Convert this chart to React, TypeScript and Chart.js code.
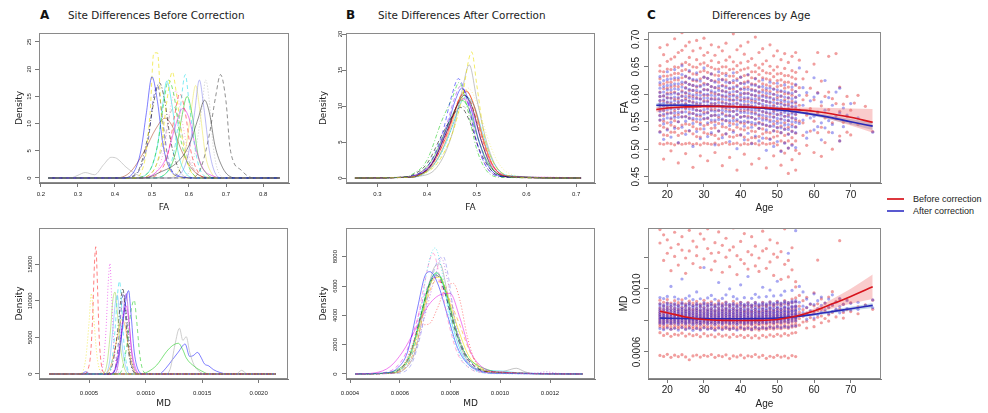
import React, { useEffect, useRef } from "react";
import { Chart, registerables } from "chart.js";
Chart.register(...registerables);

/* ------------------------------------------------------------------ */
/* DATA                                                                 */
/* ------------------------------------------------------------------ */

// Panel A (top): FA density per site, before correction  [FA, density]
const faBeforeCurves: number[][][] = [
  [[0.22,0],[0.42,0],[0.45,1],[0.47,5],[0.485,12],[0.50,18.6],[0.515,14],[0.53,6],[0.55,1.5],[0.58,0.2],[0.62,0],[0.845,0]],
  [[0.22,0],[0.45,0],[0.48,3],[0.495,12],[0.505,23],[0.515,23],[0.525,12],[0.54,3],[0.57,0.3],[0.60,0],[0.845,0]],
  [[0.22,0],[0.60,0],[0.63,1.5],[0.655,8],[0.672,15],[0.685,19],[0.70,14],[0.71,6],[0.72,3],[0.74,1.5],[0.76,0.3],[0.78,0],[0.845,0]],
  [[0.22,0],[0.48,0],[0.52,1],[0.57,3],[0.60,6],[0.625,11],[0.642,14.3],[0.655,12],[0.67,6],[0.69,2],[0.71,0.3],[0.73,0],[0.845,0]],
  [[0.22,0],[0.55,0],[0.58,1],[0.60,5],[0.615,12],[0.628,18],[0.64,13],[0.655,5],[0.67,1],[0.69,0],[0.845,0]],
  [[0.22,0],[0.57,0],[0.60,1],[0.62,6],[0.635,13],[0.645,18],[0.655,14],[0.665,6],[0.68,1],[0.70,0],[0.845,0]],
  [[0.22,0],[0.50,0],[0.54,1],[0.56,5],[0.575,12],[0.59,19],[0.60,14],[0.615,6],[0.63,1.5],[0.66,0],[0.845,0]],
  [[0.22,0],[0.46,0],[0.50,1],[0.525,6],[0.54,14],[0.555,19.5],[0.565,16],[0.58,8],[0.60,2],[0.63,0],[0.845,0]],
  [[0.22,0],[0.45,0],[0.49,1],[0.515,6],[0.53,13],[0.545,18],[0.56,15],[0.575,8],[0.60,2],[0.63,0],[0.845,0]],
  [[0.22,0],[0.42,0],[0.46,1],[0.49,8],[0.505,14],[0.52,17.5],[0.535,14],[0.55,7],[0.57,2],[0.60,0],[0.845,0]],
  [[0.22,0],[0.43,0],[0.47,2],[0.49,7],[0.505,15],[0.515,17],[0.53,10],[0.545,3],[0.57,0.5],[0.60,0],[0.845,0]],
  [[0.22,0],[0.40,0],[0.44,1],[0.48,5],[0.51,9],[0.535,11],[0.555,9.5],[0.58,5],[0.61,1.5],[0.64,0.2],[0.70,0],[0.845,0]],
  [[0.22,0],[0.47,0],[0.51,1],[0.54,4],[0.565,10],[0.583,12.8],[0.60,11],[0.62,5],[0.64,1.5],[0.66,0.5],[0.69,0],[0.845,0]],
  [[0.22,0],[0.48,0],[0.52,1],[0.545,5],[0.56,11],[0.575,15.5],[0.59,12],[0.605,5],[0.625,1],[0.65,0],[0.845,0]],
  [[0.22,0],[0.47,0],[0.51,1],[0.535,6],[0.55,13],[0.565,16],[0.58,11],[0.60,4],[0.62,1],[0.65,0],[0.845,0]],
  [[0.22,0],[0.28,0],[0.30,0.5],[0.32,1],[0.345,0.6],[0.37,2.5],[0.39,3.8],[0.405,3.6],[0.43,2],[0.45,1],[0.47,0.3],[0.50,0],[0.845,0]],
  [[0.22,0],[0.50,0],[0.54,1],[0.565,5],[0.58,11],[0.595,15],[0.61,11],[0.625,4],[0.645,1],[0.67,0],[0.845,0]],
  [[0.22,0],[0.45,0],[0.49,1],[0.515,6],[0.53,14],[0.54,17.8],[0.555,13],[0.57,5],[0.59,1],[0.62,0],[0.845,0]],
  [[0.22,0],[0.54,0],[0.57,1],[0.59,5],[0.605,12],[0.618,17],[0.63,12],[0.645,4],[0.66,1],[0.68,0],[0.845,0]],
  [[0.22,0],[0.46,0],[0.50,1],[0.53,6],[0.55,12],[0.56,13],[0.575,10],[0.595,4],[0.62,1],[0.65,0],[0.845,0]],
];
const faBeforeXTicks = [0.2, 0.3, 0.4, 0.5, 0.6, 0.7, 0.8];
const faBeforeXLabels = ["0.2", "0.3", "0.4", "0.5", "0.6", "0.7", "0.8"];
const faBeforeYTicks = [0, 5, 10, 15, 20, 25];
const faBeforeYLabels = ["0", "5", "10", "15", "20", "25"];

// Panel B (top): FA density per site, after correction
const faAfterCurves: number[][][] = [
  [[0.255,0],[0.36,0.1],[0.38,0.3],[0.42,2],[0.45,6],[0.47,11],[0.49,17.5],[0.50,13],[0.515,6],[0.535,2],[0.56,0.4],[0.60,0.05],[0.71,0]],
  [[0.255,0],[0.36,0.1],[0.38,0.2],[0.42,1.5],[0.45,6],[0.47,12],[0.485,15.7],[0.50,11],[0.52,5],[0.54,1.5],[0.57,0.2],[0.71,0]],
  [[0.255,0],[0.35,0.1],[0.37,0.3],[0.40,1.5],[0.43,6],[0.45,11.5],[0.463,13.8],[0.48,11],[0.50,5],[0.52,1.5],[0.55,0.2],[0.71,0]],
  [[0.255,0],[0.35,0.1],[0.37,0.5],[0.40,2.5],[0.43,8],[0.45,11],[0.465,13.3],[0.48,10],[0.50,4],[0.52,1],[0.55,0.1],[0.71,0]],
  [[0.255,0],[0.35,0.1],[0.37,0.4],[0.40,2],[0.43,6],[0.455,9],[0.468,9.8],[0.485,8],[0.505,4],[0.53,1],[0.56,0.1],[0.71,0]],
  [[0.255,0],[0.36,0.1],[0.38,0.3],[0.41,2],[0.44,6.5],[0.46,10],[0.475,11.5],[0.49,10],[0.51,5],[0.53,1.5],[0.56,0.2],[0.71,0]],
  [[0.255,0],[0.36,0.1],[0.38,0.3],[0.41,1.8],[0.44,6],[0.465,11],[0.48,12],[0.495,10],[0.515,5],[0.535,1.5],[0.565,0.2],[0.71,0]],
  [[0.255,0],[0.35,0.1],[0.38,0.5],[0.41,2.2],[0.44,6.5],[0.46,10],[0.472,11],[0.49,9.5],[0.51,5],[0.53,1.8],[0.56,0.3],[0.64,0.1],[0.71,0]],
  [[0.255,0],[0.36,0.1],[0.39,0.5],[0.42,2.5],[0.45,7],[0.465,10],[0.478,11.3],[0.495,10],[0.515,5.5],[0.535,2],[0.565,0.3],[0.71,0]],
  [[0.255,0],[0.36,0.1],[0.38,0.4],[0.41,2],[0.44,7],[0.458,11],[0.47,12.5],[0.485,10.5],[0.505,5],[0.525,1.5],[0.555,0.2],[0.71,0]],
  [[0.255,0],[0.35,0.1],[0.38,0.4],[0.41,2],[0.44,7.5],[0.455,11],[0.468,12.8],[0.482,10.5],[0.50,5],[0.52,1.5],[0.55,0.2],[0.71,0]],
  [[0.255,0],[0.36,0.1],[0.39,0.5],[0.42,2.5],[0.45,7.5],[0.465,11],[0.478,12.2],[0.492,10.5],[0.51,6],[0.53,2],[0.56,0.3],[0.71,0]],
  [[0.255,0],[0.35,0.1],[0.38,0.5],[0.41,2.5],[0.44,7],[0.46,10],[0.47,10.8],[0.485,9.5],[0.505,5],[0.525,1.8],[0.555,0.3],[0.71,0]],
  [[0.255,0],[0.36,0.2],[0.39,0.6],[0.42,2],[0.45,6],[0.47,10.5],[0.482,12.5],[0.50,10.5],[0.52,6],[0.54,2.5],[0.57,0.5],[0.62,0.1],[0.71,0]],
  [[0.255,0],[0.36,0.1],[0.39,0.5],[0.42,2.5],[0.45,7],[0.465,10],[0.475,11],[0.49,9.8],[0.51,5.5],[0.53,2],[0.56,0.3],[0.66,0.1],[0.71,0]],
  [[0.255,0],[0.35,0.1],[0.38,0.5],[0.41,2.5],[0.44,7],[0.46,9.5],[0.47,10],[0.485,9],[0.505,5],[0.525,1.8],[0.555,0.3],[0.71,0]],
  [[0.255,0],[0.37,0.1],[0.40,0.8],[0.43,3.5],[0.455,8],[0.475,12],[0.49,11],[0.51,6],[0.53,2.2],[0.56,0.4],[0.71,0]],
  [[0.255,0],[0.36,0.1],[0.39,0.6],[0.42,3],[0.45,8],[0.47,11.5],[0.485,11],[0.50,8],[0.52,3.5],[0.54,1],[0.57,0.1],[0.71,0]],
];
const faAfterXTicks = [0.3, 0.4, 0.5, 0.6, 0.7];
const faAfterXLabels = ["0.3", "0.4", "0.5", "0.6", "0.7"];
const faAfterYTicks = [0, 5, 10, 15, 20];
const faAfterYLabels = ["0", "5", "10", "15", "20"];

// Panel A (bottom): MD density per site, before correction  [MD, density]
const mdBeforeCurves: number[][][] = [
  [[1.5e-4,0],[4.5e-4,0],[5.05e-4,1500],[5.3e-4,7000],[5.48e-4,15000],[5.6e-4,17400],[5.75e-4,12000],[5.9e-4,5000],[6.1e-4,1200],[6.4e-4,100],[6.7e-4,0],[21.5e-4,0]],
  [[1.5e-4,0],[4.2e-4,0],[4.7e-4,2000],[5.0e-4,7000],[5.2e-4,11000],[5.4e-4,8000],[5.7e-4,2500],[6.0e-4,400],[6.5e-4,0],[21.5e-4,0]],
  [[1.5e-4,0],[5.8e-4,0],[6.2e-4,1000],[6.5e-4,6000],[6.7e-4,12500],[6.85e-4,15100],[7.0e-4,10500],[7.2e-4,4000],[7.5e-4,800],[7.8e-4,0],[21.5e-4,0]],
  [[1.5e-4,0],[6.6e-4,0],[7.0e-4,1500],[7.3e-4,6000],[7.5e-4,10500],[7.7e-4,12700],[7.9e-4,9000],[8.1e-4,4000],[8.4e-4,800],[8.7e-4,0],[21.5e-4,0]],
  [[1.5e-4,0],[6.2e-4,0],[6.6e-4,1500],[6.9e-4,6000],[7.1e-4,10000],[7.3e-4,11200],[7.5e-4,8500],[7.8e-4,3500],[8.2e-4,500],[8.6e-4,0],[21.5e-4,0]],
  [[1.5e-4,0],[7.0e-4,0],[7.5e-4,1500],[7.9e-4,5500],[8.2e-4,9500],[8.5e-4,11400],[8.7e-4,8500],[9.0e-4,3000],[9.4e-4,400],[9.8e-4,0],[21.5e-4,0]],
  [[1.5e-4,0],[6.8e-4,0],[7.4e-4,1200],[7.8e-4,5000],[8.1e-4,8500],[8.3e-4,9300],[8.5e-4,7500],[8.8e-4,3000],[9.2e-4,500],[9.6e-4,0],[21.5e-4,0]],
  [[1.5e-4,0],[7.6e-4,0],[8.0e-4,1000],[8.4e-4,4500],[8.7e-4,8500],[9.0e-4,10100],[9.2e-4,7500],[9.5e-4,2500],[9.8e-4,400],[10.2e-4,0],[21.5e-4,0]],
  [[1.5e-4,0],[6.6e-4,0],[7.1e-4,1500],[7.5e-4,5500],[7.8e-4,10000],[8.0e-4,11700],[8.2e-4,8500],[8.5e-4,3000],[8.9e-4,400],[9.3e-4,0],[21.5e-4,0]],
  [[1.5e-4,0],[6.9e-4,0],[7.4e-4,1200],[7.8e-4,5000],[8.05e-4,8200],[8.2e-4,9000],[8.4e-4,7000],[8.7e-4,2500],[9.1e-4,300],[9.5e-4,0],[21.5e-4,0]],
  [[1.5e-4,0],[6.4e-4,0],[7.0e-4,1500],[7.5e-4,5000],[7.9e-4,7500],[8.2e-4,6500],[8.5e-4,3500],[8.9e-4,800],[9.3e-4,0],[21.5e-4,0]],
  [[1.5e-4,0],[6.4e-4,0],[6.8e-4,1500],[7.1e-4,6000],[7.35e-4,10000],[7.5e-4,10800],[7.7e-4,8000],[8.0e-4,3000],[8.4e-4,400],[8.8e-4,0],[21.5e-4,0]],
  [[1.5e-4,0],[7.0e-4,0],[7.4e-4,1500],[7.7e-4,6000],[7.95e-4,10500],[8.1e-4,11000],[8.3e-4,8000],[8.6e-4,2500],[9.0e-4,300],[9.4e-4,0],[21.5e-4,0]],
  [[1.5e-4,0],[9.5e-4,0],[10.2e-4,300],[11.0e-4,1230],[11.85e-4,3050],[12.4e-4,3900],[12.9e-4,4200],[13.3e-4,3300],[13.6e-4,2200],[14.35e-4,1000],[15.1e-4,300],[15.6e-4,0],[21.5e-4,0]],
  [[1.5e-4,0],[11.8e-4,0],[12.2e-4,800],[12.6e-4,4000],[13.0e-4,6250],[13.3e-4,4600],[13.6e-4,5100],[13.9e-4,3000],[14.3e-4,1200],[14.8e-4,300],[15.2e-4,0],[18.0e-4,0],[18.5e-4,500],[19.0e-4,0],[21.5e-4,0]],
  [[1.5e-4,0],[4.3e-4,0],[4.7e-4,300],[5.1e-4,0],[11.2e-4,0],[11.8e-4,800],[12.4e-4,2000],[12.9e-4,3000],[13.5e-4,4100],[13.9e-4,2400],[14.2e-4,2500],[14.6e-4,2950],[14.9e-4,2300],[15.2e-4,1400],[15.6e-4,1100],[16.0e-4,600],[16.6e-4,200],[17.2e-4,0],[21.5e-4,0]],
  [[1.5e-4,0],[7.2e-4,0],[7.6e-4,1500],[7.9e-4,6000],[8.1e-4,9500],[8.3e-4,11000],[8.5e-4,8000],[8.8e-4,2500],[9.2e-4,300],[9.6e-4,0],[21.5e-4,0]],
];
const mdBeforeXTicks = [0.0005, 0.001, 0.0015, 0.002];
const mdBeforeXLabels = ["0.0005", "0.0010", "0.0015", "0.0020"];
const mdBeforeYTicks = [0, 5000, 10000, 15000];
const mdBeforeYLabels = ["0", "5000", "10000", "15000"];

// Panel B (bottom): MD density per site, after correction
const mdAfterCurves: number[][][] = [
  [[4.2e-4,0],[5.4e-4,50],[6.0e-4,300],[6.4e-4,1200],[6.8e-4,4000],[7.1e-4,7200],[7.4e-4,8600],[7.7e-4,6800],[8.0e-4,3500],[8.4e-4,1200],[8.8e-4,400],[9.3e-4,100],[9.8e-4,20],[13.3e-4,0]],
  [[4.2e-4,0],[5.5e-4,40],[6.1e-4,400],[6.5e-4,1800],[6.9e-4,5500],[7.33e-4,8230],[7.6e-4,6500],[7.9e-4,3800],[8.3e-4,1400],[8.7e-4,500],[9.2e-4,120],[13.3e-4,0]],
  [[4.2e-4,0],[5.8e-4,40],[6.4e-4,500],[6.8e-4,2500],[7.2e-4,6000],[7.5e-4,7700],[7.73e-4,8000],[7.95e-4,6500],[8.2e-4,3500],[8.6e-4,1100],[9.0e-4,300],[9.5e-4,60],[13.3e-4,0]],
  [[4.2e-4,0],[5.3e-4,60],[5.9e-4,400],[6.3e-4,1500],[6.7e-4,4500],[7.0e-4,6700],[7.2e-4,6977],[7.5e-4,6200],[7.9e-4,4000],[8.3e-4,1800],[8.7e-4,700],[9.2e-4,200],[9.8e-4,50],[13.3e-4,0]],
  [[4.2e-4,0],[5.6e-4,50],[6.1e-4,500],[6.5e-4,2000],[6.8e-4,3300],[7.15e-4,3400],[7.5e-4,4500],[7.8e-4,5800],[8.13e-4,6180],[8.4e-4,5000],[8.7e-4,2500],[9.0e-4,900],[9.5e-4,200],[13.3e-4,0]],
  [[4.2e-4,0],[5.0e-4,80],[5.6e-4,500],[6.1e-4,1500],[6.6e-4,3000],[7.1e-4,4600],[7.6e-4,5400],[8.0e-4,5500],[8.4e-4,3800],[8.8e-4,1600],[9.2e-4,600],[9.8e-4,150],[13.3e-4,0]],
  [[4.2e-4,0],[5.3e-4,50],[5.9e-4,300],[6.3e-4,1000],[6.7e-4,3000],[7.1e-4,5800],[7.45e-4,6900],[7.8e-4,5800],[8.2e-4,3200],[8.6e-4,1400],[9.0e-4,700],[9.5e-4,300],[10.0e-4,100],[13.3e-4,0]],
  [[4.2e-4,0],[5.4e-4,40],[6.0e-4,350],[6.4e-4,1300],[6.8e-4,3800],[7.2e-4,6200],[7.5e-4,6700],[7.8e-4,5500],[8.2e-4,3000],[8.6e-4,1300],[9.0e-4,500],[9.5e-4,150],[13.3e-4,0]],
  [[4.2e-4,0],[5.5e-4,50],[6.1e-4,400],[6.5e-4,1600],[6.9e-4,4200],[7.3e-4,6400],[7.6e-4,6600],[7.9e-4,5300],[8.3e-4,3200],[8.7e-4,1400],[9.1e-4,500],[9.6e-4,150],[13.3e-4,0]],
  [[4.2e-4,0],[5.6e-4,50],[6.2e-4,400],[6.6e-4,1700],[7.0e-4,4500],[7.4e-4,6300],[7.7e-4,6200],[8.0e-4,5000],[8.4e-4,3300],[8.8e-4,1500],[9.2e-4,500],[9.7e-4,100],[13.3e-4,0]],
  [[4.2e-4,0],[5.6e-4,40],[6.2e-4,350],[6.6e-4,1500],[7.0e-4,4800],[7.35e-4,7200],[7.6e-4,7500],[7.9e-4,5500],[8.3e-4,2500],[8.7e-4,900],[9.2e-4,250],[9.9e-4,100],[10.3e-4,250],[10.65e-4,390],[11.0e-4,150],[11.4e-4,20],[13.3e-4,0]],
  [[4.2e-4,0],[5.5e-4,40],[6.2e-4,400],[6.6e-4,1500],[7.0e-4,4000],[7.4e-4,6600],[7.66e-4,7900],[7.9e-4,6400],[8.3e-4,3000],[8.7e-4,1000],[9.2e-4,250],[10.0e-4,50],[11.4e-4,60],[11.85e-4,150],[12.3e-4,50],[13.3e-4,0]],
  [[4.2e-4,0],[5.4e-4,40],[6.0e-4,300],[6.4e-4,1200],[6.8e-4,3800],[7.2e-4,6300],[7.5e-4,6900],[7.8e-4,5600],[8.1e-4,3300],[8.5e-4,1300],[8.9e-4,500],[9.5e-4,250],[10.1e-4,200],[10.6e-4,100],[13.3e-4,0]],
  [[4.2e-4,0],[5.5e-4,50],[6.1e-4,350],[6.5e-4,1400],[6.9e-4,4200],[7.3e-4,6500],[7.55e-4,6800],[7.85e-4,5500],[8.25e-4,3000],[8.65e-4,1300],[9.05e-4,500],[9.6e-4,150],[13.3e-4,0]],
  [[4.2e-4,0],[5.2e-4,60],[5.8e-4,400],[6.2e-4,1300],[6.6e-4,3200],[7.0e-4,5500],[7.35e-4,6600],[7.7e-4,6000],[8.1e-4,3800],[8.5e-4,1800],[8.9e-4,700],[9.4e-4,200],[13.3e-4,0]],
];
const mdAfterXTicks = [0.0004, 0.0006, 0.0008, 0.001, 0.0012];
const mdAfterXLabels = ["0.0004", "0.0006", "0.0008", "0.0010", "0.0012"];
const mdAfterYTicks = [0, 2000, 4000, 6000, 8000];
const mdAfterYLabels = ["0", "2000", "4000", "6000", "8000"];

// Panel C (top): FA by age  [age, FA values]
const faAgeBefore: [number, number[]][] = [
  [18,[0.685,0.652,0.628,0.604,0.588,0.571,0.553,0.532,0.510]],
  [19,[0.672,0.641,0.619,0.597,0.579,0.561,0.540,0.509,0.482]],
  [20,[0.690,0.660,0.633,0.611,0.594,0.576,0.548,0.525,0.511]],
  [21,[0.664,0.645,0.622,0.603,0.583,0.566,0.544,0.510,0.497]],
  [22,[0.701,0.668,0.638,0.615,0.591,0.570,0.552,0.531,0.508]],
  [23,[0.676,0.649,0.626,0.600,0.585,0.563,0.538,0.511,0.475]],
  [24,[0.712,0.680,0.655,0.630,0.606,0.588,0.559,0.529,0.509]],
  [25,[0.688,0.658,0.632,0.612,0.592,0.574,0.546,0.510,0.492]],
  [26,[0.695,0.667,0.641,0.618,0.597,0.578,0.557,0.533,0.511]],
  [27,[0.679,0.650,0.625,0.607,0.586,0.565,0.541,0.509,0.467]],
  [28,[0.698,0.663,0.636,0.613,0.594,0.571,0.550,0.523,0.510]],
  [29,[0.684,0.655,0.628,0.603,0.581,0.560,0.537,0.508,0.488]],
  [30,[0.702,0.671,0.643,0.620,0.598,0.579,0.555,0.530,0.511]],
  [31,[0.676,0.652,0.629,0.608,0.588,0.567,0.545,0.510,0.479]],
  [32,[0.690,0.661,0.637,0.614,0.592,0.572,0.549,0.527,0.509]],
  [33,[0.671,0.646,0.624,0.601,0.583,0.562,0.539,0.511,0.494]],
  [34,[0.686,0.658,0.634,0.611,0.590,0.570,0.547,0.519,0.508]],
  [35,[0.679,0.650,0.627,0.606,0.586,0.566,0.541,0.510,0.470]],
  [36,[0.693,0.662,0.638,0.615,0.595,0.573,0.552,0.528,0.512]],
  [37,[0.668,0.645,0.621,0.600,0.582,0.561,0.536,0.509,0.485]],
  [38,[0.710,0.659,0.633,0.610,0.589,0.569,0.546,0.522,0.510]],
  [39,[0.681,0.652,0.628,0.605,0.584,0.563,0.540,0.511,0.462]],
  [40,[0.688,0.657,0.631,0.609,0.590,0.570,0.548,0.526,0.508]],
  [41,[0.673,0.646,0.622,0.602,0.581,0.560,0.535,0.510,0.491]],
  [42,[0.695,0.660,0.635,0.613,0.592,0.571,0.550,0.517,0.509]],
  [43,[0.665,0.641,0.619,0.599,0.579,0.558,0.533,0.511,0.473]],
  [44,[0.704,0.653,0.629,0.607,0.587,0.566,0.544,0.521,0.510]],
  [45,[0.676,0.648,0.624,0.603,0.583,0.561,0.538,0.508,0.483]],
  [46,[0.683,0.655,0.630,0.608,0.589,0.568,0.546,0.528,0.511]],
  [47,[0.661,0.639,0.617,0.597,0.577,0.556,0.531,0.509,0.466]],
  [48,[0.690,0.651,0.626,0.605,0.585,0.564,0.542,0.519,0.510]],
  [49,[0.670,0.644,0.620,0.600,0.580,0.559,0.534,0.511,0.488]],
  [50,[0.679,0.650,0.625,0.604,0.584,0.563,0.540,0.524,0.508]],
  [51,[0.663,0.638,0.616,0.596,0.576,0.555,0.530,0.497,0.471]],
  [52,[0.674,0.647,0.622,0.601,0.581,0.560,0.537,0.512,0.493]],
  [53,[0.658,0.634,0.613,0.593,0.574,0.552,0.528,0.502,0.456]],
  [54,[0.669,0.643,0.619,0.598,0.578,0.557,0.533,0.509,0.481]],
  [55,[0.676,0.640,0.616,0.595,0.575,0.553,0.529,0.498,0.462]],
  [56,[0.662,0.612,0.580,0.551,0.492]],
  [57,[0.628,0.590,0.548,0.525]],
  [58,[0.641,0.598,0.562,0.507]],
  [59,[0.611,0.574,0.533]],
  [60,[0.655,0.590,0.551,0.494]],
  [61,[0.676,0.603,0.566,0.530]],
  [62,[0.624,0.579,0.540,0.487]],
  [63,[0.596,0.557,0.512]],
  [64,[0.669,0.604,0.572,0.531]],
  [65,[0.592,0.548,0.500]],
  [66,[0.674,0.583,0.556]],
  [67,[0.613,0.569,0.524,0.515]],
  [68,[0.582,0.549]],
  [69,[0.596,0.560,0.531]],
  [70,[0.571,0.526]],
  [71,[0.584]],
  [72,[0.598,0.545]],
  [74,[0.578]],
  [76,[0.532]],
];
// extra points in the dense core of each age column (before correction)
const faAgeBeforeCore: [number, number[]][] = [
  [18,[0.642,0.617,0.596,0.580,0.562,0.543]],[19,[0.633,0.610,0.588,0.570,0.551,0.526]],
  [20,[0.646,0.622,0.602,0.585,0.566,0.537]],[21,[0.635,0.613,0.593,0.575,0.555,0.531]],
  [22,[0.650,0.626,0.604,0.582,0.561,0.541]],[23,[0.638,0.614,0.592,0.574,0.550,0.525]],
  [24,[0.643,0.618,0.597,0.578,0.568,0.544]],[25,[0.645,0.622,0.602,0.583,0.560,0.533]],
  [26,[0.654,0.630,0.607,0.588,0.567,0.545]],[27,[0.637,0.616,0.596,0.575,0.553,0.528]],
  [28,[0.649,0.624,0.603,0.582,0.561,0.537]],[29,[0.641,0.616,0.592,0.570,0.548,0.522]],
  [30,[0.657,0.631,0.609,0.588,0.567,0.543]],[31,[0.640,0.618,0.598,0.577,0.556,0.528]],
  [32,[0.649,0.625,0.603,0.582,0.561,0.538]],[33,[0.635,0.612,0.592,0.572,0.550,0.525]],
  [34,[0.646,0.622,0.600,0.580,0.558,0.533]],[35,[0.638,0.616,0.596,0.576,0.553,0.526]],
  [36,[0.650,0.626,0.605,0.584,0.562,0.540]],[37,[0.633,0.610,0.591,0.571,0.548,0.523]],
  [38,[0.646,0.621,0.599,0.579,0.557,0.534]],[39,[0.640,0.616,0.594,0.573,0.551,0.525]],
  [40,[0.644,0.620,0.599,0.580,0.559,0.537]],[41,[0.634,0.612,0.591,0.570,0.547,0.522]],
  [42,[0.648,0.624,0.602,0.581,0.560,0.539]],[43,[0.630,0.609,0.589,0.568,0.545,0.521]],
  [44,[0.641,0.618,0.597,0.576,0.555,0.532]],[45,[0.636,0.613,0.593,0.572,0.549,0.523]],
  [46,[0.643,0.619,0.598,0.578,0.557,0.537]],[47,[0.628,0.607,0.587,0.566,0.543,0.520]],
  [48,[0.638,0.615,0.595,0.574,0.553,0.530]],[49,[0.632,0.610,0.590,0.569,0.546,0.522]],
  [50,[0.637,0.614,0.594,0.573,0.551,0.532]],[51,[0.626,0.605,0.585,0.565,0.542,0.515]],
  [52,[0.634,0.611,0.590,0.570,0.548,0.525]],[53,[0.622,0.601,0.582,0.562,0.540,0.515]],
  [54,[0.631,0.608,0.587,0.567,0.545,0.521]],[55,[0.628,0.605,0.584,0.563,0.541,0.515]],
];
const faAgeAfter: [number, number[]][] = [
  [18,[0.632,0.611,0.596,0.583,0.569,0.553,0.531]],
  [19,[0.625,0.604,0.590,0.578,0.564,0.546,0.518]],
  [20,[0.641,0.616,0.600,0.586,0.572,0.557,0.535]],
  [21,[0.628,0.608,0.593,0.580,0.566,0.549,0.522]],
  [22,[0.645,0.619,0.602,0.588,0.574,0.558,0.538]],
  [23,[0.630,0.609,0.594,0.581,0.567,0.550,0.512]],
  [24,[0.652,0.622,0.604,0.589,0.575,0.559,0.540]],
  [25,[0.633,0.611,0.596,0.582,0.568,0.551,0.527]],
  [26,[0.643,0.618,0.601,0.587,0.573,0.556,0.534]],
  [27,[0.627,0.607,0.592,0.579,0.565,0.547,0.505]],
  [28,[0.639,0.615,0.599,0.585,0.571,0.555,0.532]],
  [29,[0.624,0.605,0.591,0.578,0.563,0.545,0.519]],
  [30,[0.648,0.617,0.600,0.586,0.572,0.556,0.537]],
  [31,[0.629,0.608,0.593,0.580,0.566,0.548,0.523]],
  [32,[0.637,0.614,0.598,0.584,0.570,0.553,0.530]],
  [33,[0.622,0.604,0.590,0.577,0.562,0.544,0.508]],
  [34,[0.641,0.615,0.599,0.585,0.571,0.554,0.533]],
  [35,[0.626,0.606,0.591,0.578,0.564,0.546,0.521]],
  [36,[0.634,0.612,0.597,0.583,0.569,0.552,0.528]],
  [37,[0.621,0.603,0.589,0.576,0.561,0.543,0.514]],
  [38,[0.639,0.613,0.597,0.583,0.569,0.552,0.531]],
  [39,[0.625,0.605,0.590,0.577,0.563,0.545,0.501]],
  [40,[0.631,0.610,0.595,0.581,0.567,0.550,0.526]],
  [41,[0.619,0.601,0.587,0.574,0.560,0.542,0.517]],
  [42,[0.636,0.609,0.594,0.580,0.566,0.549,0.529]],
  [43,[0.617,0.599,0.585,0.572,0.558,0.540,0.510]],
  [44,[0.628,0.606,0.591,0.578,0.564,0.547,0.524]],
  [45,[0.614,0.597,0.583,0.570,0.556,0.538,0.515]],
  [46,[0.626,0.604,0.589,0.576,0.562,0.545,0.520]],
  [47,[0.611,0.594,0.580,0.567,0.553,0.535,0.498]],
  [48,[0.622,0.601,0.586,0.573,0.559,0.542,0.518]],
  [49,[0.609,0.592,0.578,0.565,0.551,0.533,0.505]],
  [50,[0.620,0.598,0.583,0.570,0.556,0.539,0.514]],
  [51,[0.606,0.589,0.575,0.562,0.548,0.530,0.496]],
  [52,[0.617,0.595,0.580,0.567,0.553,0.536,0.511]],
  [53,[0.603,0.586,0.572,0.559,0.545,0.527,0.502]],
  [54,[0.613,0.592,0.577,0.564,0.550,0.532,0.507]],
  [55,[0.618,0.594,0.578,0.564,0.549,0.530,0.503]],
  [56,[0.648,0.598,0.571,0.547]],
  [57,[0.612,0.580,0.553]],
  [58,[0.603,0.566,0.531,0.520]],
  [59,[0.588,0.557]],
  [60,[0.630,0.595,0.560,0.535]],
  [61,[0.602,0.568,0.541]],
  [62,[0.586,0.548,0.517]],
  [63,[0.625,0.571,0.539]],
  [64,[0.594,0.552]],
  [65,[0.580,0.545,0.530]],
  [66,[0.604,0.561]],
  [67,[0.611,0.566,0.515]],
  [68,[0.575,0.541]],
  [69,[0.562]],
  [70,[0.583,0.548]],
  [72,[0.557]],
  [76,[0.531]],
];
const faAgeAfterCore: [number, number[]][] = [
  [18,[0.621,0.603,0.589,0.576,0.561]],[19,[0.614,0.597,0.584,0.571,0.555]],
  [20,[0.627,0.608,0.593,0.579,0.564]],[21,[0.617,0.600,0.586,0.573,0.557]],
  [22,[0.630,0.610,0.595,0.581,0.566]],[23,[0.619,0.601,0.587,0.574,0.558]],
  [24,[0.636,0.613,0.596,0.582,0.567]],[25,[0.621,0.603,0.589,0.575,0.559]],
  [26,[0.629,0.609,0.594,0.580,0.564]],[27,[0.616,0.599,0.585,0.572,0.556]],
  [28,[0.626,0.607,0.592,0.578,0.563]],[29,[0.614,0.598,0.584,0.570,0.554]],
  [30,[0.631,0.608,0.593,0.579,0.564]],[31,[0.618,0.600,0.586,0.573,0.557]],
  [32,[0.625,0.606,0.591,0.577,0.561]],[33,[0.612,0.597,0.583,0.569,0.553]],
  [34,[0.627,0.607,0.592,0.578,0.562]],[35,[0.615,0.598,0.584,0.571,0.555]],
  [36,[0.622,0.604,0.590,0.576,0.560]],[37,[0.611,0.596,0.582,0.568,0.552]],
  [38,[0.625,0.605,0.590,0.576,0.560]],[39,[0.614,0.597,0.583,0.570,0.554]],
  [40,[0.620,0.602,0.588,0.574,0.558]],[41,[0.609,0.594,0.580,0.567,0.551]],
  [42,[0.622,0.601,0.587,0.573,0.557]],[43,[0.607,0.592,0.578,0.565,0.549]],
  [44,[0.616,0.598,0.584,0.571,0.555]],[45,[0.605,0.590,0.576,0.563,0.547]],
  [46,[0.614,0.596,0.582,0.569,0.553]],[47,[0.602,0.587,0.573,0.560,0.544]],
  [48,[0.611,0.593,0.579,0.566,0.550]],[49,[0.600,0.585,0.571,0.558,0.542]],
  [50,[0.608,0.590,0.576,0.563,0.547]],[51,[0.597,0.582,0.568,0.555,0.539]],
  [52,[0.605,0.587,0.573,0.560,0.544]],[53,[0.594,0.579,0.565,0.552,0.536]],
  [54,[0.602,0.584,0.570,0.557,0.541]],[55,[0.605,0.586,0.571,0.556,0.540]],
];
const faFitAges = [17, 20, 25, 30, 35, 40, 45, 50, 55, 60, 65, 70, 76];
const faFitBefore = [0.572,0.575,0.577,0.578,0.578,0.577,0.576,0.574,0.572,0.569,0.564,0.558,0.549];
const faFitBeforeLo = [0.567,0.572,0.575,0.576,0.576,0.575,0.574,0.572,0.569,0.562,0.553,0.543,0.530];
const faFitBeforeHi = [0.577,0.578,0.579,0.580,0.580,0.579,0.578,0.577,0.576,0.576,0.575,0.574,0.573];
const faFitAfter = [0.580,0.580,0.580,0.579,0.578,0.577,0.575,0.572,0.568,0.563,0.557,0.550,0.542];
const faFitAfterLo = [0.576,0.577,0.578,0.578,0.577,0.576,0.574,0.571,0.566,0.560,0.553,0.545,0.535];
const faFitAfterHi = [0.584,0.583,0.582,0.580,0.579,0.578,0.576,0.573,0.570,0.566,0.561,0.555,0.549];
const ageXTicks = [20, 30, 40, 50, 60, 70];
const ageXLabels = ["20", "30", "40", "50", "60", "70"];
const faAgeYTicks = [0.45, 0.5, 0.55, 0.6, 0.65, 0.7];
const faAgeYLabels = ["0.45", "0.50", "0.55", "0.60", "0.65", "0.70"];

// Panel C (bottom): MD by age  [age, MD values in units of 1e-6]
const mdAgeBefore: [number, number[]][] = [
  [18,[1375,1290,905,866,838,812,788,760,722,578]],
  [19,[1342,1180,892,858,829,803,779,748,705,572]],
  [20,[1310,1225,910,870,840,814,790,758,716,585]],
  [21,[1260,1115,888,855,826,801,776,744,699,566]],
  [22,[1358,1205,902,864,835,809,785,753,712,580]],
  [23,[1282,1150,895,860,831,806,781,750,707,571]],
  [24,[1330,1245,908,868,838,812,787,756,719,583]],
  [25,[1195,1098,890,856,828,802,778,746,701,569]],
  [26,[1370,1240,904,865,836,810,785,754,714,551]],
  [27,[1302,1160,893,859,830,804,780,748,703,575]],
  [28,[1265,1210,900,862,833,807,783,751,710,581]],
  [29,[1348,1135,887,854,826,800,776,744,697,568]],
  [30,[1315,1190,906,866,836,810,786,755,716,579]],
  [31,[1380,1255,891,857,829,803,779,747,702,573]],
  [32,[1225,1120,899,861,832,806,782,750,709,584]],
  [33,[1292,1175,886,853,825,799,775,743,696,566]],
  [34,[1360,1230,903,864,834,808,784,752,713,577]],
  [35,[1275,1105,890,856,828,802,778,746,700,571]],
  [36,[1320,1200,897,860,831,805,781,749,707,582]],
  [37,[1245,1140,885,852,824,798,774,742,694,558]],
  [38,[1385,1265,901,862,833,807,783,751,711,575]],
  [39,[1210,1090,888,855,827,801,777,745,698,569]],
  [40,[1300,1185,896,859,830,804,780,748,706,580]],
  [41,[1350,1160,884,851,823,797,773,741,692,563]],
  [42,[1235,1125,894,858,829,803,779,747,704,576]],
  [43,[1330,1215,883,850,822,796,772,740,690,571]],
  [44,[1270,1145,893,857,828,802,778,746,703,584]],
  [45,[1195,1110,882,849,821,795,771,739,688,568]],
  [46,[1365,1240,895,858,829,803,779,747,705,578]],
  [47,[1255,1130,886,853,825,799,775,743,695,560]],
  [48,[1310,1170,898,860,831,805,781,749,708,573]],
  [49,[1220,1085,889,855,827,801,777,745,699,566]],
  [50,[1290,1200,902,863,833,807,783,751,712,579]],
  [51,[1235,1060,893,858,829,803,779,747,702,568]],
  [52,[1380,1155,906,866,836,810,786,754,716,574]],
  [53,[1180,1075,898,861,832,806,782,750,706,562]],
  [54,[1260,1120,912,870,840,814,790,758,719,577]],
  [55,[1045,1012,918,874,843,817,793,761,723,571]],
  [56,[958,890,852,812,770]],
  [57,[925,868,826,790]],
  [58,[946,880,838,795,752]],
  [59,[902,856,818]],
  [60,[975,892,846,804,760]],
  [61,[1182,905,862,820]],
  [62,[936,870,828,785]],
  [63,[910,858,812]],
  [64,[948,880,835,796]],
  [65,[982,895,850]],
  [66,[920,865,822]],
  [67,[1305,935,872]],
  [68,[903,850,815]],
  [69,[930,868]],
  [70,[912,856]],
  [72,[885,842]],
  [74,[898]],
  [76,[928,870]],
];
const mdAgeBeforeCore: [number, number[]][] = [
  [18,[928,880,851,825,800,774]],[19,[915,872,843,816,791,762]],[20,[932,885,855,827,802,771]],
  [21,[910,870,840,813,789,758]],[22,[925,878,849,822,797,768]],[23,[912,873,845,818,793,763]],
  [24,[930,883,853,825,800,770]],[25,[905,868,841,815,790,760]],[26,[922,878,850,823,797,767]],
  [27,[910,871,844,817,792,761]],[28,[920,876,848,820,795,766]],[29,[903,866,839,813,788,757]],
  [30,[927,881,851,823,798,768]],[31,[908,869,842,816,791,760]],[32,[918,875,846,819,794,764]],
  [33,[901,864,838,812,787,756]],[34,[923,879,849,821,796,766]],[35,[906,868,841,815,790,759]],
  [36,[916,874,845,818,793,763]],[37,[899,863,837,810,785,754]],[38,[920,877,847,820,795,765]],
  [39,[904,867,840,814,789,758]],[40,[915,873,844,817,792,762]],[41,[897,861,835,809,784,753]],
  [42,[913,871,843,816,791,761]],[43,[896,860,834,808,783,752]],[44,[912,870,842,815,790,760]],
  [45,[894,858,832,806,781,750]],[46,[914,872,843,816,791,761]],[47,[898,862,836,810,785,754]],
  [48,[917,874,845,818,793,763]],[49,[902,866,839,813,788,757]],[50,[921,877,848,821,796,766]],
  [51,[907,869,842,816,791,760]],[52,[925,880,850,823,798,768]],[53,[913,873,845,819,794,763]],
  [54,[935,886,855,828,803,772]],[55,[942,890,859,831,806,776]],
];
const mdAgeAfter: [number, number[]][] = [
  [18,[945,905,875,850,828,806,782,748]],
  [19,[938,898,869,845,823,801,777,741]],
  [20,[952,910,879,853,831,809,785,752]],
  [21,[1015,901,871,847,825,803,779,744]],
  [22,[948,907,877,851,829,807,783,750]],
  [23,[935,896,867,843,821,799,775,739]],
  [24,[1062,912,880,854,832,810,786,754]],
  [25,[940,899,870,846,824,802,778,743]],
  [26,[955,909,878,852,830,808,784,751]],
  [27,[932,894,866,842,820,798,774,737]],
  [28,[980,906,876,850,828,806,782,749]],
  [29,[937,897,868,844,822,800,776,740]],
  [30,[1135,911,879,853,831,809,785,753]],
  [31,[942,900,870,846,824,802,778,744]],
  [32,[958,908,877,851,829,807,783,750]],
  [33,[934,895,866,842,820,798,774,738]],
  [34,[1040,910,878,852,830,808,784,752]],
  [35,[939,898,869,845,823,801,777,742]],
  [36,[962,912,880,854,832,810,786,754]],
  [37,[1000,902,871,847,825,803,779,745]],
  [38,[950,907,876,850,828,806,782,749]],
  [39,[936,896,867,843,821,799,775,740]],
  [40,[1025,913,881,855,833,811,787,755]],
  [41,[944,901,871,847,825,803,779,746]],
  [42,[1078,909,878,852,830,808,784,752]],
  [43,[940,899,869,845,823,801,777,743]],
  [44,[965,914,882,856,834,812,788,756]],
  [45,[947,903,873,849,827,805,781,748]],
  [46,[1010,911,880,854,832,810,786,754]],
  [47,[951,905,875,851,829,807,783,750]],
  [48,[992,916,884,858,836,814,790,758]],
  [49,[955,908,877,852,830,808,784,752]],
  [50,[1048,918,886,860,838,816,792,760]],
  [51,[960,910,879,854,832,810,786,754]],
  [52,[985,920,888,862,840,818,794,762]],
  [53,[1225,912,881,856,834,812,788,756]],
  [54,[990,922,890,864,842,820,796,764]],
  [55,[1368,925,892,866,844,822,798,766]],
  [56,[1015,915,872,838]],
  [57,[980,890,850]],
  [58,[935,882,846,808]],
  [59,[905,862]],
  [60,[968,900,858,815]],
  [61,[925,874,835]],
  [62,[948,895,852]],
  [63,[910,868]],
  [64,[935,884,842]],
  [65,[962,898,855]],
  [66,[915,871]],
  [67,[940,888,848]],
  [68,[902,860]],
  [69,[925,875]],
  [70,[908,866]],
  [72,[915,870]],
  [74,[895]],
  [76,[930,880]],
];
const mdAgeAfterCore: [number, number[]][] = [
  [18,[892,862,838,816,793]],[19,[886,857,833,811,788]],[20,[897,866,841,819,796]],
  [21,[888,858,835,813,790]],[22,[894,864,840,818,795]],[23,[884,855,832,810,787]],
  [24,[900,868,843,821,798]],[25,[887,857,834,812,789]],[26,[896,865,841,819,796]],
  [27,[882,853,830,808,785]],[28,[893,863,839,817,794]],[29,[885,856,833,811,788]],
  [30,[898,867,842,820,797]],[31,[888,858,835,813,790]],[32,[895,864,840,818,795]],
  [33,[883,854,831,809,786]],[34,[897,866,841,819,796]],[35,[886,857,834,812,789]],
  [36,[899,868,843,821,798]],[37,[889,859,836,814,791]],[38,[894,864,840,818,795]],
  [39,[884,855,832,810,787]],[40,[900,869,844,822,799]],[41,[890,860,837,815,792]],
  [42,[896,866,842,820,797]],[43,[887,858,835,813,790]],[44,[902,871,846,824,801]],
  [45,[892,862,839,817,794]],[46,[899,869,845,823,800]],[47,[893,863,840,818,795]],
  [48,[905,874,849,827,804]],[49,[896,866,843,821,798]],[50,[908,877,852,830,807]],
  [51,[899,869,846,824,801]],[52,[910,879,854,832,809]],[53,[902,872,849,827,804]],
  [54,[912,881,856,834,811]],[55,[915,884,859,837,814]],
];
const mdFitAges = [18, 20, 25, 30, 35, 40, 45, 50, 55, 60, 65, 70, 76];
const mdFitBefore = [858,848,822,806,800,799,800,806,826,860,905,952,1013];
const mdFitBeforeLo = [843,840,816,801,796,795,796,801,818,845,875,905,935];
const mdFitBeforeHi = [873,856,828,811,804,803,804,811,834,875,935,1000,1090];
const mdFitAfter = [815,814,812,811,810,810,811,815,824,838,856,874,895];
const mdFitAfterLo = [808,809,808,808,807,807,808,811,819,830,846,862,878];
const mdFitAfterHi = [822,819,816,814,813,813,814,819,829,846,866,886,910];
const mdAgeYTicks = [600, 800, 1000, 1200];
const mdAgeYLabels = ["0.0006", "", "0.0010", ""];

/* ------------------------------------------------------------------ */
/* STYLES                                                               */
/* ------------------------------------------------------------------ */
const PAL: Record<string, string> = {
  black: "rgba(0,0,0,0.55)", red: "rgba(255,0,0,0.5)", green: "rgba(0,200,0,0.5)",
  blue: "rgba(0,0,255,0.5)", cyan: "rgba(0,215,230,0.5)", magenta: "rgba(230,0,230,0.5)",
  yellow: "rgba(235,225,0,0.6)", gray: "rgba(140,140,140,0.5)", dgray: "rgba(70,70,70,0.6)",
  lgray: "rgba(185,185,185,0.7)", navy: "rgba(20,20,150,0.55)", brown: "rgba(170,70,40,0.55)",
  pink: "rgba(255,110,190,0.55)", lav: "rgba(120,120,235,0.5)", lyel: "rgba(240,235,130,0.75)",
  orange: "rgba(255,150,0,0.5)", purple: "rgba(150,30,210,0.5)", teal: "rgba(0,140,140,0.5)",
  lblue: "rgba(90,170,255,0.5)", lgreen: "rgba(160,220,90,0.6)",
};
const DASH: Record<string, number[]> = { s: [], d: [4, 3], o: [1, 2], dd: [1, 2, 4, 2], l: [6, 3] };

const faBeforeStyle = [
  ["blue","s"],["yellow","d"],["dgray","d"],["dgray","s"],["lav","s"],["lgray","o"],["cyan","d"],["yellow","d"],
  ["green","d"],["black","dd"],["navy","d"],["brown","s"],["magenta","s"],["red","d"],["pink","o"],["lgray","s"],
  ["green","s"],["cyan","s"],["lyel","s"],["gray","d"],
];
const faAfterStyle = [
  ["yellow","d"],["gray","s"],["blue","d"],["green","dd"],["black","d"],["black","s"],["red","s"],["magenta","s"],
  ["cyan","s"],["blue","s"],["purple","d"],["orange","s"],["green","s"],["lyel","o"],["pink","o"],["gray","d"],
  ["cyan","o"],["red","d"],
];
const mdBeforeStyle = [
  ["red","d"],["yellow","o"],["magenta","o"],["cyan","d"],["lgreen","s"],["blue","s"],["magenta","s"],["green","d"],
  ["black","dd"],["dgray","o"],["orange","s"],["lblue","s"],["navy","d"],["green","s"],["lgray","s"],["blue","s"],["purple","s"],
];
const mdAfterStyle = [
  ["cyan","o"],["pink","d"],["lav","d"],["blue","s"],["red","o"],["magenta","s"],["green","s"],["black","d"],
  ["yellow","s"],["orange","d"],["gray","s"],["purple","o"],["cyan","s"],["teal","dd"],["magenta","d"],
];

const SANS = '"DejaVu Sans", sans-serif';
const RFONT = '"Liberation Sans", Arial, sans-serif';
const AXIS = "#777";
const TXT = "#222";
const RED_LINE = "#d7141c";
const BLUE_LINE = "#2a2ab8";

/* ------------------------------------------------------------------ */
/* CHART PLUMBING                                                        */
/* ------------------------------------------------------------------ */
const framePlugin = {
  id: "frame",
  afterDraw(chart: any, _a: any, o: any) {
    const { ctx, chartArea: a } = chart;
    ctx.save();
    ctx.strokeStyle = o.boxColor;
    ctx.lineWidth = 1;
    ctx.strokeRect(Math.round(a.left) + 0.5, Math.round(a.top) + 0.5, Math.round(a.right - a.left) - 1, Math.round(a.bottom - a.top) - 1);
    const ys = chart.scales.y;
    ctx.fillStyle = TXT;
    ctx.font = o.font;
    ctx.textAlign = "center";
    ctx.textBaseline = "middle";
    o.ticks.forEach((v: number, i: number) => {
      const label = o.labels[i];
      if (!label) return;
      const py = ys.getPixelForValue(v);
      ctx.save();
      ctx.translate(o.x, py);
      ctx.rotate(-Math.PI / 2);
      ctx.fillText(label, 0, 0);
      ctx.restore();
    });
    ctx.restore();
  },
};

type Spec = {
  left: number; top: number; width: number; height: number;
  padTop: number; padRight: number; yAxisW: number; xAxisH: number;
  xMin: number; xMax: number; yMin: number; yMax: number;
  xTicks: number[]; xLabels: string[]; yTicks: number[]; yLabels: string[];
  xTitle: string; yTitle: string;
  xTitleFont: any; yTitleFont: any; xTickFont: any; yTickFont: string;
  xTickPad: number; xTitleBottom: number; yTitleCenter: number; yLabelX: number;
};

function buildOptions(p: Spec) {
  const yLh = p.yTitleFont.size * 1.2;
  const xLh = p.xTitleFont.size * 1.2;
  return {
    animation: false,
    responsive: false,
    maintainAspectRatio: false,
    devicePixelRatio: 1,
    events: [],
    layout: { padding: { top: p.padTop, right: p.padRight, left: 0, bottom: 0 }, autoPadding: false },
    plugins: {
      legend: { display: false },
      tooltip: { enabled: false },
      frame: { ticks: p.yTicks, labels: p.yLabels, x: p.yLabelX, font: p.yTickFont, boxColor: "#8a8a8a" },
    },
    scales: {
      x: {
        type: "linear", min: p.xMin, max: p.xMax,
        afterBuildTicks: (ax: any) => { ax.ticks = p.xTicks.map((v) => ({ value: v })); },
        afterFit: (ax: any) => { ax.height = p.xAxisH; },
        ticks: { autoSkip: false, maxRotation: 0, minRotation: 0, padding: p.xTickPad, color: TXT,
          font: p.xTickFont, callback: (_v: any, i: number) => p.xLabels[i] },
        grid: { drawOnChartArea: false, drawTicks: true, tickLength: 4, color: AXIS },
        border: { display: true, color: AXIS },
        title: { display: true, text: p.xTitle, color: TXT, font: { ...p.xTitleFont, lineHeight: 1.2 },
          padding: { top: 0, bottom: p.xTitleBottom - xLh / 2 } },
      },
      y: {
        type: "linear", min: p.yMin, max: p.yMax,
        afterBuildTicks: (ax: any) => { ax.ticks = p.yTicks.map((v) => ({ value: v })); },
        afterFit: (ax: any) => { ax.width = p.yAxisW; },
        ticks: { display: false },
        grid: { drawOnChartArea: false, drawTicks: true, tickLength: 4, color: AXIS },
        border: { display: true, color: AXIS },
        title: { display: true, text: p.yTitle, color: TXT, font: { ...p.yTitleFont, lineHeight: 1.2 },
          padding: { top: p.yTitleCenter - yLh / 2, bottom: 0 } },
      },
    },
  };
}

function densityDatasets(curves: number[][][], style: string[][]) {
  return curves.map((c, i) => ({
    data: c.map(([x, y]) => ({ x, y })),
    borderColor: PAL[style[i][0]],
    borderDash: DASH[style[i][1]],
    borderWidth: 1,
    pointRadius: 0,
    fill: false,
    tension: 0,
    cubicInterpolationMode: "monotone",
  }));
}

const toPts = (rows: [number, number[]][]) => rows.flatMap(([a, vs]) => vs.map((v) => ({ x: a, y: v })));
const zip = (xs: number[], ys: number[]) => xs.map((x, i) => ({ x, y: ys[i] }));

function ageDatasets(before: [number, number[]][], after: [number, number[]][], ages: number[],
  rf: number[], rlo: number[], rhi: number[], bf: number[], blo: number[], bhi: number[]) {
  const line = { pointRadius: 0, cubicInterpolationMode: "monotone", tension: 0 };
  return [
    { ...line, data: zip(ages, rf), borderColor: RED_LINE, borderWidth: 1.6, fill: false, order: 0 },
    { ...line, data: zip(ages, bf), borderColor: BLUE_LINE, borderWidth: 1.6, fill: false, order: 0 },
    { ...line, data: zip(ages, rhi), borderColor: "transparent", borderWidth: 0, fill: "+1", backgroundColor: "rgba(240,110,110,0.35)", order: 1 },
    { ...line, data: zip(ages, rlo), borderColor: "transparent", borderWidth: 0, fill: false, order: 1 },
    { ...line, data: zip(ages, bhi), borderColor: "transparent", borderWidth: 0, fill: "+1", backgroundColor: "rgba(90,140,190,0.35)", order: 1 },
    { ...line, data: zip(ages, blo), borderColor: "transparent", borderWidth: 0, fill: false, order: 1 },
    { data: toPts(after), showLine: false, pointRadius: 1.6, pointBorderWidth: 0, pointBackgroundColor: "rgba(45,45,225,0.42)", order: 2 },
    { data: toPts(before), showLine: false, pointRadius: 1.6, pointBorderWidth: 0, pointBackgroundColor: "rgba(225,40,40,0.45)", order: 3 },
  ];
}

function Panel({ spec, datasets }: { spec: Spec; datasets: any[] }) {
  const ref = useRef<HTMLCanvasElement | null>(null);
  useEffect(() => {
    if (!ref.current) return;
    const chart = new Chart(ref.current, {
      type: "line",
      data: { datasets } as any,
      options: buildOptions(spec) as any,
      plugins: [framePlugin as any],
    });
    return () => chart.destroy();
  }, []);
  return (
    <canvas ref={ref} width={spec.width} height={spec.height}
      style={{ position: "absolute", left: spec.left, top: spec.top, width: spec.width, height: spec.height }} />
  );
}

/* ------------------------------------------------------------------ */
/* PANEL GEOMETRY                                                        */
/* ------------------------------------------------------------------ */
const smallTick = { family: RFONT, size: 6 };
const smallYTick = `6px ${RFONT}`;
const densTitle = { family: SANS, size: 9 };
const ageTick = { family: RFONT, size: 10 };
const ageYTick = `10px ${RFONT}`;
const ageTitle = { family: RFONT, size: 10 };

const specA1: Spec = {
  left: 0, top: 25, width: 300, height: 190, padTop: 8, padRight: 11, yAxisW: 39, xAxisH: 32,
  xMin: 0.195, xMax: 0.87, yMin: -0.92, yMax: 26.65,
  xTicks: faBeforeXTicks, xLabels: faBeforeXLabels, yTicks: faBeforeYTicks, yLabels: faBeforeYLabels,
  xTitle: "FA", yTitle: "Density", xTitleFont: densTitle, yTitleFont: densTitle, xTickFont: smallTick, yTickFont: smallYTick,
  xTickPad: 4, xTitleBottom: 7, yTitleCenter: 20, yLabelX: 29.5,
};
const specB1: Spec = {
  left: 305, top: 25, width: 300, height: 190, padTop: 8, padRight: 10, yAxisW: 41, xAxisH: 32,
  xMin: 0.237, xMax: 0.738, yMin: -0.69, yMax: 20.14,
  xTicks: faAfterXTicks, xLabels: faAfterXLabels, yTicks: faAfterYTicks, yLabels: faAfterYLabels,
  xTitle: "FA", yTitle: "Density", xTitleFont: densTitle, yTitleFont: densTitle, xTickFont: smallTick, yTickFont: smallYTick,
  xTickPad: 4, xTitleBottom: 7, yTitleCenter: 19, yLabelX: 35,
};
const specA2: Spec = {
  left: 0, top: 218, width: 300, height: 195, padTop: 10, padRight: 12, yAxisW: 39, xAxisH: 34,
  xMin: 0.0000575, xMax: 0.00226, yMin: -684, yMax: 19965,
  xTicks: mdBeforeXTicks, xLabels: mdBeforeXLabels, yTicks: mdBeforeYTicks, yLabels: mdBeforeYLabels,
  xTitle: "MD", yTitle: "Density", xTitleFont: densTitle, yTitleFont: densTitle, xTickFont: smallTick, yTickFont: smallYTick,
  xTickPad: 7, xTitleBottom: 9, yTitleCenter: 20, yLabelX: 30,
};
const specB2: Spec = {
  left: 305, top: 218, width: 300, height: 195, padTop: 10, padRight: 10, yAxisW: 41, xAxisH: 34,
  xMin: 0.000384, xMax: 0.00138, yMin: -341, yMax: 9957,
  xTicks: mdAfterXTicks, xLabels: mdAfterXLabels, yTicks: mdAfterYTicks, yLabels: mdAfterYLabels,
  xTitle: "MD", yTitle: "Density", xTitleFont: densTitle, yTitleFont: densTitle, xTickFont: smallTick, yTickFont: smallYTick,
  xTickPad: 7, xTitleBottom: 9, yTitleCenter: 19, yLabelX: 30,
};
const specC1: Spec = {
  left: 615, top: 25, width: 270, height: 190, padTop: 7, padRight: 4, yAxisW: 33, xAxisH: 32,
  xMin: 14.74, xMax: 78.26, yMin: 0.4385, yMax: 0.7133,
  xTicks: ageXTicks, xLabels: ageXLabels, yTicks: faAgeYTicks, yLabels: faAgeYLabels,
  xTitle: "Age", yTitle: "FA", xTitleFont: ageTitle, yTitleFont: ageTitle, xTickFont: ageTick, yTickFont: ageYTick,
  xTickPad: 2, xTitleBottom: 7, yTitleCenter: 10, yLabelX: 21,
};
const specC2: Spec = {
  left: 615, top: 218, width: 270, height: 195, padTop: 10, padRight: 4, yAxisW: 33, xAxisH: 34,
  xMin: 14.74, xMax: 78.26, yMin: 429, yMax: 1385,
  xTicks: ageXTicks, xLabels: ageXLabels, yTicks: mdAgeYTicks, yLabels: mdAgeYLabels,
  xTitle: "Age", yTitle: "MD", xTitleFont: ageTitle, yTitleFont: ageTitle, xTickFont: ageTick, yTickFont: ageYTick,
  xTickPad: 1, xTitleBottom: 9, yTitleCenter: 9, yLabelX: 22,
};

/* ------------------------------------------------------------------ */
export default function App() {
  const letter: React.CSSProperties = { position: "absolute", top: 9, fontFamily: SANS, fontWeight: 700, fontSize: 12, lineHeight: "12px", color: "#111" };
  const title: React.CSSProperties = { position: "absolute", top: 9, fontFamily: SANS, fontSize: 10.4, lineHeight: "12px", color: "#222", whiteSpace: "nowrap" };
  const legText: React.CSSProperties = { position: "absolute", left: 913, fontFamily: RFONT, fontSize: 9, lineHeight: "12px", color: "#222", whiteSpace: "nowrap" };
  const faBeforeAll = [...faAgeBefore, ...faAgeBeforeCore] as [number, number[]][];
  const faAfterAll = [...faAgeAfter, ...faAgeAfterCore] as [number, number[]][];
  const mdBeforeAll = [...mdAgeBefore, ...mdAgeBeforeCore] as [number, number[]][];
  const mdAfterAll = [...mdAgeAfter, ...mdAgeAfterCore] as [number, number[]][];
  return (
    <div style={{ position: "absolute", left: 0, top: 0, width: 988, height: 413, background: "#fff", overflow: "hidden" }}>
      <Panel spec={specA1} datasets={densityDatasets(faBeforeCurves, faBeforeStyle)} />
      <Panel spec={specB1} datasets={densityDatasets(faAfterCurves, faAfterStyle)} />
      <Panel spec={specA2} datasets={densityDatasets(mdBeforeCurves, mdBeforeStyle)} />
      <Panel spec={specB2} datasets={densityDatasets(mdAfterCurves, mdAfterStyle)} />
      <Panel spec={specC1} datasets={ageDatasets(faBeforeAll, faAfterAll, faFitAges, faFitBefore, faFitBeforeLo, faFitBeforeHi, faFitAfter, faFitAfterLo, faFitAfterHi)} />
      <Panel spec={specC2} datasets={ageDatasets(mdBeforeAll, mdAfterAll, mdFitAges, mdFitBefore, mdFitBeforeLo, mdFitBeforeHi, mdFitAfter, mdFitAfterLo, mdFitAfterHi)} />

      <div style={{ ...letter, left: 40 }}>A</div>
      <div style={{ ...title, left: 68 }}>Site Differences Before Correction</div>
      <div style={{ ...letter, left: 346 }}>B</div>
      <div style={{ ...title, left: 378 }}>Site Differences After Correction</div>
      <div style={{ ...letter, left: 647 }}>C</div>
      <div style={{ ...title, left: 712 }}>Differences by Age</div>

      <div style={{ position: "absolute", left: 887, top: 198, width: 17, height: 2, background: "rgba(215,20,28,0.85)" }} />
      <div style={{ ...legText, top: 193 }}>Before correction</div>
      <div style={{ position: "absolute", left: 887, top: 210, width: 17, height: 2, background: "rgba(60,60,200,0.85)" }} />
      <div style={{ ...legText, top: 205 }}>After correction</div>
    </div>
  );
}
